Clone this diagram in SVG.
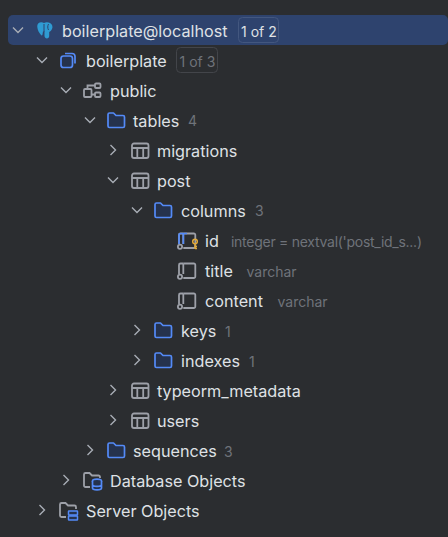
<svg xmlns="http://www.w3.org/2000/svg" width="448" height="537" viewBox="0 0 448 537">
<style>
text{font-family:Inter,"Noto Sans","Liberation Sans",sans-serif;font-size:16.2px;fill:#dfe1e5}
text.h{font-size:14px;fill:#6f737a}
text.c{font-size:14px;fill:#6f737a}
text.b{font-size:14px}
.chev{fill:none;stroke:#a8adb5;stroke-width:1.4}
.gi{fill:none;stroke:#9da0a8;stroke-width:1.8}
.fo{fill:#25324d;stroke:#548af7;stroke-width:1.7;stroke-linejoin:round}
.bi{fill:none;stroke:#548af7;stroke-width:1.7}
</style>
<defs>
<path id="cd" class="chev" d="M-5-2.500L0 2.500L5-2.500"/>
<path id="cr" class="chev" d="M-2.500-5L2.500 0L-2.500 5"/>
<path id="folder" class="fo" d="M-8-6.500a1.500 1.500 0 0 1 1.500-1.500h4l2.500 2.500h7a1.500 1.500 0 0 1 1.500 1.500v9a1.500 1.500 0 0 1-1.500 1.500h-13.500a1.500 1.500 0 0 1-1.500-1.500z"/>
<g id="table" class="gi"><rect x="-8" y="-7" width="16.500" height="14.500" rx="2"/><path d="M-8-2.500H8.500M-2.700-2.500V7.500M3.200-2.500V7.500"/></g>
<g id="col" class="gi"><path d="M-3.700-7.500H6.800a1.500 1.500 0 0 1 1.500 1.500V5.500a1.500 1.500 0 0 1-1.500 1.500H-3.700M-3.700-7.500V3"/><path d="M-8 3V-6a1.500 1.500 0 0 1 1.500-1.500H-3.700"/><circle cx="-7" cy="5.700" r="2.100"/></g>
</defs>
<rect width="448" height="537" fill="#2b2d30"/>
<g id="connectors"/>
<g id="n-server">
<rect x="8" y="15" width="440" height="30" rx="5" fill="#2e436e"/>
<use href="#cd" x="18" y="30"/>
<path fill="#2f9bd3" d="M38 23.500c2-1.500 4-1.500 6-.5 1.500-1 4-1.200 6 0 2.500 1.500 3 4 2 6-.7 1.500-1.800 2.500-2.800 3v4c0 1.500-1 2.500-2.300 2.500s-2.200-1-2.400-2.500v-4.500h-1.500l-.5 3c-.2 1-1 1.200-1.500.5-1.800-2-3.500-5-3.700-8-.1-1.500.1-3 1.200-3.500z"/>
<path stroke="#2e436e" stroke-width="1" fill="none" d="M44 24v8M48.500 24c-1 2-1 4 0 6"/>
<text x="62" y="37">boilerplate@localhost</text>
<rect x="238.500" y="17.500" width="40" height="25" rx="4" fill="none" stroke="#43577f"/>
<text x="241" y="37" class="b">1 of 2</text>
</g>
<g id="n-db">
<use href="#cd" x="42" y="60"/>
<path class="bi" d="M65 53.500h7a3 3 0 0 1 3 3v7"/>
<rect x="61" y="56" width="11.500" height="11.500" rx="2.500" fill="#25324d" stroke="#548af7" stroke-width="1.700"/>
<text x="86" y="67">boilerplate</text>
<rect x="176.500" y="47.500" width="41" height="25" rx="4" fill="none" stroke="#43454a"/>
<text x="179.500" y="67" class="c">1 of 3</text>
</g>
<g id="n-public">
<use href="#cd" x="66" y="90"/>
<g class="gi"><rect x="84" y="89" width="7.500" height="8" rx="1"/><rect x="95" y="83.500" width="5.500" height="4.500" rx="1"/><rect x="95" y="92.500" width="5.500" height="4.500" rx="1"/><path d="M87.500 89V85.500H95M91.500 94.500H95"/></g>
<text x="110" y="97">public</text>
</g>
<g id="n-tables">
<use href="#cd" x="90" y="120"/>
<use href="#folder" x="116" y="121"/>
<text x="133" y="127">tables</text>
<text x="188" y="126" class="h">4</text>
</g>
<g id="n-migrations">
<use href="#cr" x="113" y="150"/>
<use href="#table" x="140" y="150.500"/>
<text x="157" y="157">migrations</text>
</g>
<g id="n-post">
<use href="#cd" x="113" y="180"/>
<use href="#table" x="140" y="180.500"/>
<text x="157" y="187">post</text>
</g>
<g id="n-columns">
<use href="#cd" x="137" y="210"/>
<use href="#folder" x="163" y="211"/>
<text x="181" y="217">columns</text>
<text x="255" y="216" class="h">3</text>
</g>
<g id="n-id">
<use href="#col" x="187" y="241"/>
<path class="bi" d="M179 244V235a1.500 1.500 0 0 1 1.500-1.500h2.800V244M183.300 233.500H187"/>
<circle cx="195" cy="241.500" r="2.300" fill="none" stroke="#e0a93a" stroke-width="1.500"/>
<path d="M195 244v5M195 246.500h2M195 248.500h2" fill="none" stroke="#e0a93a" stroke-width="1.400"/>
<text x="205" y="247">id</text>
<text x="231" y="247" class="c" textLength="191">integer = nextval('post_id_s...)</text>
</g>
<g id="n-title">
<use href="#col" x="187" y="271"/>
<text x="205" y="277">title</text>
<text x="246.500" y="277" class="c">varchar</text>
</g>
<g id="n-content">
<use href="#col" x="187" y="301"/>
<text x="205" y="307">content</text>
<text x="277.500" y="307" class="c">varchar</text>
</g>
<g id="n-keys">
<use href="#cr" x="137" y="330"/>
<use href="#folder" x="163" y="331"/>
<text x="181" y="337">keys</text>
<text x="225" y="337" class="h">1</text>
</g>
<g id="n-indexes">
<use href="#cr" x="137" y="360"/>
<use href="#folder" x="163" y="361"/>
<text x="181" y="367">indexes</text>
<text x="249" y="367" class="h">1</text>
</g>
<g id="n-typeorm">
<use href="#cr" x="113" y="390"/>
<use href="#table" x="140" y="390.500"/>
<text x="157" y="397">typeorm_metadata</text>
</g>
<g id="n-users">
<use href="#cr" x="113" y="420"/>
<use href="#table" x="140" y="420.500"/>
<text x="157" y="427">users</text>
</g>
<g id="n-sequences">
<use href="#cr" x="90" y="450"/>
<use href="#folder" x="116" y="451"/>
<text x="133" y="457">sequences</text>
<text x="224" y="457" class="h">3</text>
</g>
<g id="n-dbobjects">
<use href="#cr" x="66" y="480"/>
<path class="gi" d="M90 487H85.500a1.500 1.500 0 0 1-1.500-1.500V474.500a1.500 1.500 0 0 1 1.500-1.500H89.500l2.500 2.500H98.500a1.500 1.500 0 0 1 1.500 1.500V478"/>
<g class="bi"><ellipse cx="97" cy="481" rx="4.500" ry="1.800" fill="#25324d"/><path fill="#25324d" d="M92.500 481V488c0 1 2 1.800 4.500 1.800s4.500-.8 4.500-1.800V481M92.500 484.500c0 1 2 1.800 4.500 1.800s4.500-.8 4.500-1.800"/></g>
<text x="110" y="487">Database Objects</text>
</g>
<g id="n-serverobjects">
<use href="#cr" x="42" y="510"/>
<path class="gi" d="M66 517H61.500a1.500 1.500 0 0 1-1.500-1.500V504.500a1.500 1.500 0 0 1 1.500-1.500H65.500l2.500 2.500H74.500a1.500 1.500 0 0 1 1.500 1.500V509"/>
<g fill="#25324d" stroke="#548af7" stroke-width="1.500"><rect x="68.500" y="511" width="9" height="4" rx=".5"/><rect x="68.500" y="516" width="9" height="4" rx=".5"/></g>
<text x="86" y="517">Server Objects</text>
</g>
</svg>
